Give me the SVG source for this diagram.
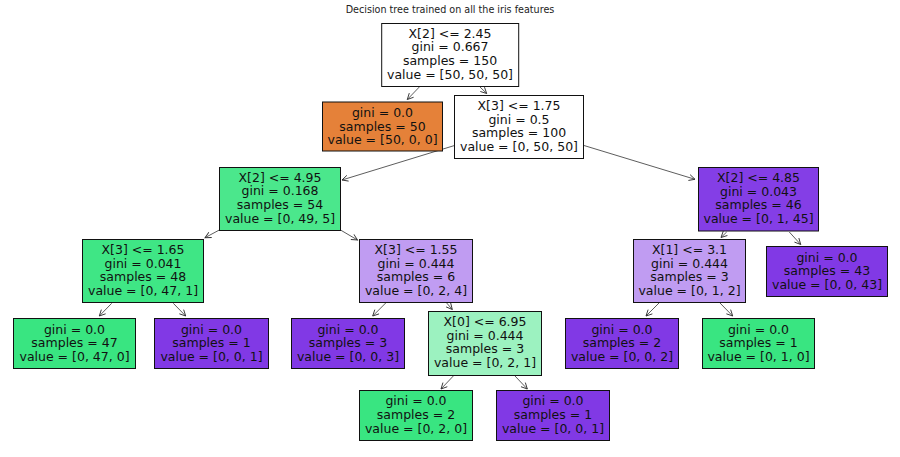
<svg xmlns="http://www.w3.org/2000/svg" width="900" height="457" viewBox="0 0 900 457">
<style>
text{font-family:"DejaVu Sans",sans-serif;fill:#111;text-anchor:middle}
.t{font-size:12.5px}
.title{font-size:9.6px;fill:#222}
rect{stroke:#111;stroke-width:1}
#edges line{stroke:#333;stroke-width:.8;marker-end:url(#arrow);fill:none}
</style>
<defs><marker id="arrow" markerUnits="userSpaceOnUse" markerWidth="10" markerHeight="10" refX="7" refY="4" orient="auto"><path d="M1 1L7 4L1 7" fill="none" stroke="#333" stroke-width=".9"/></marker></defs>
<rect width="900" height="457" style="fill:#fff;stroke:none"/>
<text class="title" x="450" y="13">Decision tree trained on all the iris features</text>
<g id="edges">
<line x1="419.3" y1="87" x2="407.3" y2="99.5"/>
<line x1="480" y1="87" x2="486.7" y2="93.5"/>
<line x1="454.5" y1="145.5" x2="342" y2="180"/>
<line x1="584" y1="145.5" x2="695" y2="179.3"/>
<line x1="219.3" y1="230" x2="205" y2="237.7"/>
<line x1="340.5" y1="230" x2="357.5" y2="240"/>
<line x1="111.7" y1="303.3" x2="99.3" y2="316"/>
<line x1="173.3" y1="303.3" x2="185.7" y2="316"/>
<line x1="385.7" y1="303" x2="372.7" y2="316"/>
<line x1="446.7" y1="303" x2="452.3" y2="309.5"/>
<line x1="453.3" y1="376" x2="441" y2="389"/>
<line x1="515" y1="376" x2="527.3" y2="389"/>
<line x1="726.7" y1="232" x2="721" y2="237.5"/>
<line x1="789.3" y1="232" x2="800.7" y2="244.5"/>
<line x1="659" y1="303" x2="646" y2="316"/>
<line x1="720" y1="303" x2="732.7" y2="316"/>
</g>
<g id="n0"><rect x="381.7" y="23.5" width="137" height="63" fill="#fff"/><g class="t"><text x="450" y="37.7">X[2] &lt;= 2.45</text><text x="450" y="51.3">gini = 0.667</text><text x="450" y="65">samples = 150</text><text x="450" y="78.7">value = [50, 50, 50]</text></g></g>
<g id="n1"><rect x="322.5" y="102" width="120" height="49" fill="#e58139"/><g class="t"><text x="382.5" y="117">gini = 0.0</text><text x="382.5" y="130.7">samples = 50</text><text x="382.5" y="144.3">value = [50, 0, 0]</text></g></g>
<g id="n2"><rect x="454.5" y="95.5" width="129" height="63" fill="#fff"/><g class="t"><text x="519" y="110">X[3] &lt;= 1.75</text><text x="519" y="123.7">gini = 0.5</text><text x="519" y="137.3">samples = 100</text><text x="519" y="151">value = [0, 50, 50]</text></g></g>
<g id="n3"><rect x="219.5" y="167.5" width="121" height="63" fill="#4be78c"/><g class="t"><text x="280" y="181.7">X[2] &lt;= 4.95</text><text x="280" y="195.4">gini = 0.168</text><text x="280" y="209">samples = 54</text><text x="280" y="222.7">value = [0, 49, 5]</text></g></g>
<g id="n4"><rect x="698.5" y="167.5" width="120" height="63.5" fill="#843ee6"/><g class="t"><text x="758.5" y="182">X[2] &lt;= 4.85</text><text x="758.5" y="195.5">gini = 0.043</text><text x="758.5" y="209.2">samples = 46</text><text x="758.5" y="223">value = [0, 1, 45]</text></g></g>
<g id="n5"><rect x="82.5" y="239.5" width="121" height="63" fill="#3fe685"/><g class="t"><text x="143" y="254">X[3] &lt;= 1.65</text><text x="143" y="267.5">gini = 0.041</text><text x="143" y="281">samples = 48</text><text x="143" y="295">value = [0, 47, 1]</text></g></g>
<g id="n6"><rect x="359.5" y="239.5" width="113" height="63" fill="#c09cf2"/><g class="t"><text x="416" y="254">X[3] &lt;= 1.55</text><text x="416" y="267.5">gini = 0.444</text><text x="416" y="281">samples = 6</text><text x="416" y="295">value = [0, 2, 4]</text></g></g>
<g id="n7"><rect x="633.5" y="239.5" width="112" height="63" fill="#c09cf2"/><g class="t"><text x="689.5" y="254">X[1] &lt;= 3.1</text><text x="689.5" y="267.5">gini = 0.444</text><text x="689.5" y="281">samples = 3</text><text x="689.5" y="295">value = [0, 1, 2]</text></g></g>
<g id="n8"><rect x="766.5" y="246.5" width="121" height="50" fill="#8139e5"/><g class="t"><text x="827" y="261.5">gini = 0.0</text><text x="827" y="275">samples = 43</text><text x="827" y="288.5">value = [0, 0, 43]</text></g></g>
<g id="n9"><rect x="13.5" y="318.5" width="122" height="50" fill="#39e581"/><g class="t"><text x="74.5" y="333.5">gini = 0.0</text><text x="74.5" y="347">samples = 47</text><text x="74.5" y="361">value = [0, 47, 0]</text></g></g>
<g id="n10"><rect x="154.5" y="318.5" width="114" height="50" fill="#8139e5"/><g class="t"><text x="211.5" y="333.5">gini = 0.0</text><text x="211.5" y="347">samples = 1</text><text x="211.5" y="361">value = [0, 0, 1]</text></g></g>
<g id="n11"><rect x="291.5" y="318.5" width="113" height="50" fill="#8139e5"/><g class="t"><text x="348" y="333.5">gini = 0.0</text><text x="348" y="347">samples = 3</text><text x="348" y="361">value = [0, 0, 3]</text></g></g>
<g id="n12"><rect x="428.5" y="311.5" width="113" height="64" fill="#9cf2c0"/><g class="t"><text x="485" y="326">X[0] &lt;= 6.95</text><text x="485" y="339.5">gini = 0.444</text><text x="485" y="353">samples = 3</text><text x="485" y="367">value = [0, 2, 1]</text></g></g>
<g id="n13"><rect x="359.5" y="390.5" width="113" height="50" fill="#39e581"/><g class="t"><text x="416" y="405">gini = 0.0</text><text x="416" y="419">samples = 2</text><text x="416" y="433">value = [0, 2, 0]</text></g></g>
<g id="n14"><rect x="496.5" y="390.5" width="113" height="50" fill="#8139e5"/><g class="t"><text x="553" y="405">gini = 0.0</text><text x="553" y="419">samples = 1</text><text x="553" y="433">value = [0, 0, 1]</text></g></g>
<g id="n15"><rect x="565.5" y="318.5" width="113" height="50" fill="#8139e5"/><g class="t"><text x="622" y="333.5">gini = 0.0</text><text x="622" y="347">samples = 2</text><text x="622" y="361">value = [0, 0, 2]</text></g></g>
<g id="n16"><rect x="702.5" y="318.5" width="112" height="50" fill="#39e581"/><g class="t"><text x="758.5" y="333.5">gini = 0.0</text><text x="758.5" y="347">samples = 1</text><text x="758.5" y="361">value = [0, 1, 0]</text></g></g>
</svg>
